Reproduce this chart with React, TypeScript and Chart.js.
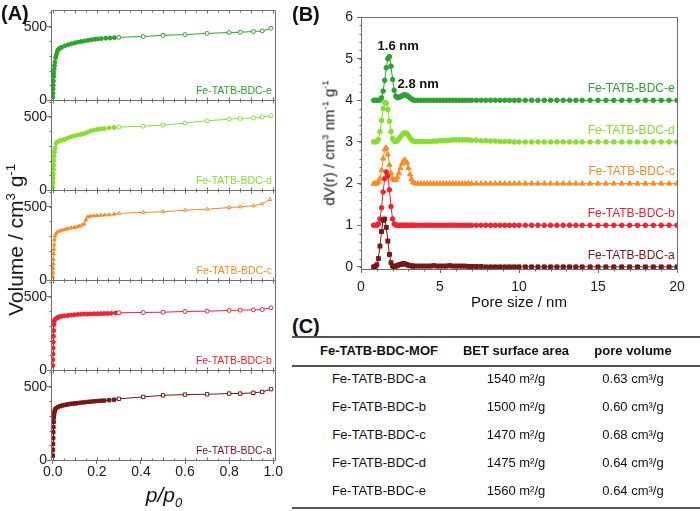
import React, { useEffect, useRef } from 'react';
import { Chart, registerables } from 'chart.js';

Chart.register(...registerables);

const FONT = '"Liberation Sans", Arial, Helvetica, sans-serif';
Chart.defaults.font.family = FONT;

// ---------- shared ----------
const SAMPLE_NAMES = ['Fe-TATB-BDC-a', 'Fe-TATB-BDC-b', 'Fe-TATB-BDC-c', 'Fe-TATB-BDC-d', 'Fe-TATB-BDC-e'];
const SAMPLE_COLORS = ['#7b1616', '#f5202e', '#ff8a1c', '#84e02a', '#2ca42c'];
const POINT_STYLES = ['rect', 'circle', 'triangle', 'circle', 'circle'];
const FRAME_COLOR = '#6f6f6f';
const TICK_COLOR = '#222';

// ---------- panel A: N2 isotherms (p/p0, cm3/g) ----------
const ISO_A_ADS_P = [0.0005, 0.001, 0.0015, 0.002, 0.0025, 0.003, 0.004, 0.005, 0.006, 0.008, 0.010, 0.015, 0.023, 0.034, 0.045, 0.057, 0.068, 0.079, 0.090, 0.102, 0.113, 0.128, 0.143, 0.158, 0.173, 0.188, 0.203, 0.218, 0.233, 0.255, 0.278];
const ISO_A_ADS_V = [30, 70, 110, 150, 190, 225, 260, 290, 310, 330, 343, 352, 362, 368, 373, 377, 380, 383, 385, 387, 389, 392, 394, 397, 399, 401, 403, 405, 406, 409, 412];
const ISO_A_DES_P = [0.30, 0.41, 0.50, 0.60, 0.70, 0.80, 0.85, 0.91, 0.95, 0.99];
const ISO_A_DES_V = [418, 431, 442, 447, 449, 454, 454, 459, 465, 484];

const ISO_B_ADS_P = [0.0005, 0.001, 0.0015, 0.002, 0.0025, 0.003, 0.004, 0.005, 0.007, 0.010, 0.015, 0.022, 0.030, 0.040, 0.053, 0.068, 0.083, 0.098, 0.113, 0.128, 0.143, 0.158, 0.173, 0.188, 0.203, 0.218, 0.233, 0.248, 0.265, 0.285];
const ISO_B_ADS_V = [30, 70, 110, 150, 190, 230, 270, 310, 335, 345, 352, 358, 364, 367, 370, 373, 375, 377, 380, 381, 382, 382, 383, 384, 384, 385, 386, 386, 388, 389];
const ISO_B_DES_P = [0.30, 0.41, 0.50, 0.60, 0.70, 0.80, 0.85, 0.91, 0.95, 0.99];
const ISO_B_DES_V = [391, 393, 395, 400, 402, 407, 409, 411, 413, 425];

const ISO_C_ADS_P = [0.0005, 0.001, 0.0015, 0.002, 0.003, 0.004, 0.005, 0.006, 0.0075, 0.010, 0.015, 0.023, 0.034, 0.045, 0.057, 0.068, 0.083, 0.098, 0.110, 0.120, 0.132, 0.143, 0.150, 0.158, 0.170, 0.185, 0.200, 0.218, 0.235, 0.255, 0.278];
const ISO_C_ADS_V = [20, 50, 80, 110, 140, 180, 210, 240, 275, 300, 318, 330, 336, 341, 346, 352, 356, 359, 363, 368, 375, 382, 410, 432, 436, 438, 440, 442, 444, 446, 450];
const ISO_C_DES_P = [0.30, 0.41, 0.50, 0.60, 0.70, 0.80, 0.85, 0.91, 0.95, 0.985];
const ISO_C_DES_V = [455, 462, 466, 477, 484, 495, 500, 507, 520, 550];

const ISO_D_ADS_P = [0.0005, 0.001, 0.0015, 0.002, 0.003, 0.004, 0.005, 0.006, 0.0075, 0.010, 0.015, 0.020, 0.030, 0.040, 0.053, 0.068, 0.083, 0.098, 0.113, 0.128, 0.143, 0.158, 0.173, 0.188, 0.203, 0.218, 0.233, 0.255, 0.278];
const ISO_D_ADS_V = [20, 50, 80, 110, 140, 170, 200, 230, 260, 285, 318, 328, 336, 341, 345, 355, 364, 370, 375, 380, 386, 395, 405, 410, 414, 417, 420, 424, 427];
const ISO_D_DES_P = [0.30, 0.41, 0.50, 0.60, 0.70, 0.80, 0.85, 0.91, 0.95, 0.99];
const ISO_D_DES_V = [430, 436, 443, 457, 473, 484, 489, 493, 500, 508];

const ISO_E_ADS_P = [0.0005, 0.001, 0.0015, 0.002, 0.003, 0.004, 0.005, 0.006, 0.008, 0.010, 0.013, 0.016, 0.020, 0.025, 0.030, 0.040, 0.055, 0.070, 0.085, 0.100, 0.115, 0.130, 0.145, 0.160, 0.175, 0.190, 0.205, 0.220, 0.240, 0.260, 0.280];
const ISO_E_ADS_V = [20, 45, 75, 100, 130, 160, 185, 210, 235, 260, 290, 310, 330, 345, 352, 360, 370, 378, 384, 390, 396, 400, 404, 408, 412, 415, 417, 420, 422, 424, 426];
const ISO_E_DES_P = [0.30, 0.41, 0.50, 0.60, 0.70, 0.80, 0.85, 0.91, 0.95, 0.99];
const ISO_E_DES_V = [428, 434, 442, 447, 455, 461, 463, 468, 472, 490];

const ISO_ADS_P = [ISO_A_ADS_P, ISO_B_ADS_P, ISO_C_ADS_P, ISO_D_ADS_P, ISO_E_ADS_P];
const ISO_ADS_V = [ISO_A_ADS_V, ISO_B_ADS_V, ISO_C_ADS_V, ISO_D_ADS_V, ISO_E_ADS_V];
const ISO_DES_P = [ISO_A_DES_P, ISO_B_DES_P, ISO_C_DES_P, ISO_D_DES_P, ISO_E_DES_P];
const ISO_DES_V = [ISO_A_DES_V, ISO_B_DES_V, ISO_C_DES_V, ISO_D_DES_V, ISO_E_DES_V];

const A_X_TICKS = [0, 0.2, 0.4, 0.6, 0.8, 1.0];
const A_Y_TICKS = [0, 500];

// ---------- panel B: pore size distributions ----------
const PORE_SIZE = [
  0.8, 0.9, 1.0, 1.1, 1.2, 1.3, 1.4, 1.5, 1.6, 1.7, 1.8, 1.9, 2.0, 2.1, 2.2, 2.3, 2.4, 2.5, 2.6, 2.7, 2.8, 2.9, 3.0, 3.1, 3.2, 3.3, 3.4,
  3.6, 3.8, 4.0, 4.2, 4.4, 4.6, 4.8, 5.0, 5.2, 5.4, 5.6, 5.8, 6.0, 6.2, 6.4, 6.6, 6.8, 7.0,
  7.3, 7.6, 7.9, 8.2, 8.5, 8.8, 9.1, 9.4, 9.7, 10.0,
  10.4, 10.8, 11.2, 11.6, 12.0, 12.4, 12.8, 13.2, 13.6, 14.0,
  14.5, 15.0, 15.5, 16.0, 16.5, 17.0, 17.5, 18.0, 18.5, 19.0, 19.5, 20.0,
];
const PSD_A = [
  0, 0.01, 0.05, 0.2, 0.5, 0.85, 1.12, 1.15, 0.95, 0.62, 0.3, 0.1, 0.02, 0.01, 0.02, 0.03, 0.05, 0.06, 0.07, 0.08, 0.07, 0.06, 0.04, 0.03, 0.02, 0.02, 0.02,
  0.02, 0.02, 0.02, 0.02, 0.02, 0.03, 0.02, 0.02, 0.02, 0.02, 0.03, 0.02, 0.02, 0.02, 0.02, 0.02, 0.01, 0.01,
  0.01, 0.01, 0, 0, 0, 0, 0, 0, 0, 0,
  0, 0, 0, 0, 0, 0, 0, 0, 0, 0,
  0, 0, 0, 0, 0, 0, 0, 0, 0, 0, 0, 0,
];
const PSD_B = [
  0, 0, 0, 0.03, 0.15, 0.42, 0.8, 1.12, 1.28, 1.18, 0.85, 0.45, 0.15, 0.03, 0.01, 0, 0, 0, 0, 0, 0, 0, 0, 0, 0, 0, 0,
  0, 0, 0, 0, 0, 0, 0, 0, 0, 0, 0, 0, 0, 0, 0, 0, 0, 0,
  0, 0, 0, 0, 0, 0, 0, 0, 0, 0,
  0, 0, 0, 0, 0, 0, 0, 0, 0, 0,
  0, 0, 0, 0, 0, 0, 0, 0, 0, 0, 0, 0,
];
const PSD_C = [
  0, 0, 0, 0.03, 0.12, 0.32, 0.6, 0.82, 0.86, 0.7, 0.45, 0.25, 0.12, 0.08, 0.09, 0.15, 0.25, 0.37, 0.48, 0.55, 0.56, 0.5, 0.37, 0.22, 0.1, 0.03, 0.01,
  0, 0, 0, 0, 0, 0, 0, 0, 0, 0, 0, 0, 0, 0, 0, 0, 0, 0,
  0, 0, 0, 0, 0, 0, 0, 0, 0, 0,
  0, 0, 0, 0, 0, 0, 0, 0, 0, 0,
  0, 0, 0, 0, 0, 0, 0, 0, 0, 0, 0, 0,
];
const PSD_D = [
  0, 0, 0.01, 0.06, 0.25, 0.52, 0.8, 0.95, 0.93, 0.78, 0.5, 0.25, 0.08, 0.02, 0.01, 0.03, 0.07, 0.12, 0.17, 0.21, 0.22, 0.21, 0.16, 0.1, 0.05, 0.02, 0.01,
  0.01, 0.01, 0.01, 0.01, 0.01, 0.02, 0.02, 0.03, 0.03, 0.04, 0.04, 0.05, 0.05, 0.05, 0.05, 0.05, 0.05, 0.04,
  0.04, 0.03, 0.03, 0.02, 0.02, 0.01, 0.01, 0.01, 0, 0,
  0, 0, 0, 0, 0, 0, 0, 0, 0, 0,
  0, 0, 0, 0, 0, 0, 0, 0, 0, 0, 0, 0,
];
const PSD_E = [
  0, 0, 0, 0, 0.01, 0.06, 0.22, 0.48, 0.78, 1.0, 1.05, 0.82, 0.5, 0.24, 0.1, 0.06, 0.07, 0.09, 0.11, 0.13, 0.13, 0.12, 0.09, 0.06, 0.03, 0.01, 0,
  0, 0, 0, 0, 0, 0, 0, 0, 0, 0, 0, 0, 0, 0, 0, 0, 0, 0,
  0, 0, 0, 0, 0, 0, 0, 0, 0, 0,
  0, 0, 0, 0, 0, 0, 0, 0, 0, 0,
  0, 0, 0, 0, 0, 0, 0, 0, 0, 0, 0, 0,
];
const PSD_SERIES = [PSD_A, PSD_B, PSD_C, PSD_D, PSD_E];
const PSD_OFFSETS = [0, 1, 2, 3, 4];
const B_X_TICKS = [0, 5, 10, 15, 20];
const B_Y_TICKS = [0, 1, 2, 3, 4, 5, 6];
const PEAK_NOTES = ['1.6 nm', '2.8 nm'];
const PEAK_NOTE_AT = [[2.35, 5.29], [3.62, 4.37]];

// ---------- panel C: table ----------
const TABLE_HEAD = ['Fe-TATB-BDC-MOF', 'BET surface area', 'pore volume'];
const BET_AREA = ['1540 m²/g', '1500 m²/g', '1470 m²/g', '1475 m²/g', '1560 m²/g'];
const PORE_VOLUME = ['0.63 cm³/g', '0.60 cm³/g', '0.68 cm³/g', '0.64 cm³/g', '0.64 cm³/g'];

// ---------- plugins ----------
const isoFramePlugin = {
  id: 'isoFrame',
  afterDatasetsDraw(chart: any) {
    const { ctx, chartArea, scales } = chart;
    const xs = scales.x;
    ctx.save();
    ctx.strokeStyle = FRAME_COLOR;
    ctx.lineWidth = 1;
    const L = Math.round(chartArea.left) + 0.5;
    const R = Math.round(chartArea.right) + 0.5;
    SAMPLE_NAMES.forEach((name, i) => {
      const ys = scales['y' + i];
      const T = Math.round(ys.top) + 0.5;
      const B = Math.round(ys.bottom) + 0.5;
      ctx.beginPath();
      ctx.rect(L, T, R - L, B - T);
      for (let k = 0; k <= 20; k++) {
        const px = Math.round(xs.getPixelForValue(k / 20)) + 0.5;
        const len = k % 2 === 0 ? 3 : 2;
        ctx.moveTo(px, B); ctx.lineTo(px, B - len);
        ctx.moveTo(px, T); ctx.lineTo(px, T + len);
      }
      for (let v = 100; v <= 600; v += 100) {
        const py = Math.round(ys.getPixelForValue(v)) + 0.5;
        ctx.moveTo(L, py); ctx.lineTo(L - 2, py);
      }
      ctx.stroke();
      ctx.fillStyle = SAMPLE_COLORS[i];
      ctx.font = `10.5px ${FONT}`;
      ctx.textAlign = 'right';
      ctx.textBaseline = 'middle';
      ctx.fillText(name, xs.getPixelForValue(0.994), ys.getPixelForValue(60));
    });
    ctx.restore();
  },
};

const psdFramePlugin = {
  id: 'psdFrame',
  afterDatasetsDraw(chart: any) {
    const { ctx, chartArea, scales } = chart;
    const xs = scales.x;
    const ys = scales.y;
    ctx.save();
    ctx.strokeStyle = FRAME_COLOR;
    ctx.lineWidth = 1;
    const L = Math.round(chartArea.left) + 0.5;
    const R = Math.round(chartArea.right) + 0.5;
    const T = Math.round(chartArea.top) + 0.5;
    const B = Math.round(chartArea.bottom) + 0.5;
    ctx.beginPath();
    ctx.rect(L, T, R - L, B - T);
    for (let k = 0; k <= 30; k++) {
      const py = Math.round(ys.getPixelForValue(k / 5)) + 0.5;
      ctx.moveTo(L, py); ctx.lineTo(L - 2, py);
    }
    for (let k = 0; k <= 20; k++) {
      const px = Math.round(xs.getPixelForValue(k)) + 0.5;
      ctx.moveTo(px, B); ctx.lineTo(px, B + 2);
    }
    ctx.stroke();
    ctx.textAlign = 'right';
    ctx.textBaseline = 'middle';
    ctx.font = `12px ${FONT}`;
    SAMPLE_NAMES.forEach((name, i) => {
      ctx.fillStyle = SAMPLE_COLORS[i];
      ctx.fillText(name, xs.getPixelForValue(19.85), ys.getPixelForValue(PSD_OFFSETS[i] + 0.28));
    });
    ctx.fillStyle = '#111';
    ctx.textAlign = 'center';
    ctx.font = `bold 13px ${FONT}`;
    PEAK_NOTES.forEach((t, i) => {
      ctx.fillText(t, xs.getPixelForValue(PEAK_NOTE_AT[i][0]), ys.getPixelForValue(PEAK_NOTE_AT[i][1]));
    });
    ctx.restore();
  },
};

// ---------- text helper ----------
function Txt(props: { x: number; y: number; align?: 'left' | 'center' | 'right'; rotate?: boolean; style?: any; children: any }) {
  const { x, y, align = 'center', rotate, style, children } = props;
  let transform = align === 'left' ? 'translate(0,-50%)' : align === 'right' ? 'translate(-100%,-50%)' : 'translate(-50%,-50%)';
  if (rotate) transform = 'translate(-50%,-50%) rotate(-90deg)';
  return (
    <div style={{ position: 'absolute', left: x, top: y, transform, whiteSpace: 'nowrap', lineHeight: 1.15, ...style }}>
      {children}
    </div>
  );
}

const supStyle = { fontSize: '0.62em', verticalAlign: 'super', lineHeight: 0 } as any;

export default function App() {
  const aRef = useRef<HTMLCanvasElement>(null);
  const bRef = useRef<HTMLCanvasElement>(null);

  useEffect(() => {
    const yScales: any = {};
    SAMPLE_NAMES.forEach((_, i) => {
      yScales['y' + i] = {
        type: 'linear',
        position: 'left',
        stack: 'iso',
        stackWeight: 1,
        min: 0,
        max: 615,
        afterBuildTicks: (s: any) => { s.ticks = A_Y_TICKS.map((v) => ({ value: v })); },
        afterFit: (s: any) => { s.width = 51; },
        ticks: { font: { size: 14 }, color: TICK_COLOR, padding: 0 },
        grid: { drawOnChartArea: false, tickLength: 4, color: FRAME_COLOR },
        border: { display: false },
      };
    });

    const chartA = new Chart(aRef.current as HTMLCanvasElement, {
      type: 'line',
      data: {
        datasets: SAMPLE_NAMES.map((name, i) => {
          const color = SAMPLE_COLORS[i];
          const pts = ISO_ADS_P[i].map((p, k) => ({ x: p, y: ISO_ADS_V[i][k] }))
            .concat(ISO_DES_P[i].map((p, k) => ({ x: p, y: ISO_DES_V[i][k] })));
          const fills = ISO_ADS_P[i].map(() => color).concat(ISO_DES_P[i].map(() => '#ffffff'));
          return {
            label: name,
            data: pts,
            yAxisID: 'y' + i,
            xAxisID: 'x',
            borderColor: color,
            backgroundColor: color,
            borderWidth: 1,
            pointStyle: POINT_STYLES[i] as any,
            pointRadius: POINT_STYLES[i] === 'rect' ? 2.4 : 2,
            pointBackgroundColor: fills,
            pointBorderColor: color,
            pointBorderWidth: 1,
            fill: false,
            tension: 0,
          };
        }),
      },
      options: {
        animation: false,
        responsive: false,
        maintainAspectRatio: false,
        devicePixelRatio: 1,
        layout: { padding: { top: 10, right: 15, left: 0, bottom: 0 } },
        plugins: { legend: { display: false }, tooltip: { enabled: false } },
        scales: {
          x: {
            type: 'linear',
            position: 'bottom',
            min: -0.008,
            max: 1.008,
            afterBuildTicks: (s: any) => { s.ticks = A_X_TICKS.map((v) => ({ value: v })); },
            afterFit: (s: any) => { s.height = 51; },
            ticks: { callback: (v: any) => Number(v).toFixed(1), font: { size: 14 }, color: TICK_COLOR, padding: 0, maxRotation: 0 },
            grid: { drawOnChartArea: false, tickLength: 4, color: FRAME_COLOR },
            border: { display: false },
          },
          ...yScales,
        },
      } as any,
      plugins: [isoFramePlugin],
    });

    const chartB = new Chart(bRef.current as HTMLCanvasElement, {
      type: 'line',
      data: {
        datasets: SAMPLE_NAMES.map((name, i) => {
          const color = SAMPLE_COLORS[i];
          return {
            label: name,
            data: PORE_SIZE.map((x, k) => ({ x, y: PSD_SERIES[i][k] + PSD_OFFSETS[i] })),
            borderColor: color,
            backgroundColor: color,
            borderWidth: 1,
            pointStyle: POINT_STYLES[i] as any,
            pointRadius: POINT_STYLES[i] === 'triangle' ? 3 : POINT_STYLES[i] === 'rect' ? 2.8 : 2.3,
            pointBackgroundColor: color,
            pointBorderColor: color,
            pointBorderWidth: 1,
            fill: false,
            tension: 0,
          };
        }),
      },
      options: {
        animation: false,
        responsive: false,
        maintainAspectRatio: false,
        devicePixelRatio: 1,
        layout: { padding: { top: 17, right: 23, left: 0, bottom: 0 } },
        plugins: { legend: { display: false }, tooltip: { enabled: false } },
        scales: {
          x: {
            type: 'linear',
            min: 0,
            max: 20,
            afterBuildTicks: (s: any) => { s.ticks = B_X_TICKS.map((v) => ({ value: v })); },
            afterFit: (s: any) => { s.height = 43; },
            ticks: { font: { size: 14 }, color: TICK_COLOR, padding: 6, maxRotation: 0 },
            grid: { drawOnChartArea: false, tickLength: 4, color: FRAME_COLOR },
            border: { display: false },
          },
          y: {
            type: 'linear',
            min: -0.05,
            max: 6,
            afterBuildTicks: (s: any) => { s.ticks = B_Y_TICKS.map((v) => ({ value: v })); },
            afterFit: (s: any) => { s.width = 51; },
            ticks: { font: { size: 14 }, color: TICK_COLOR, padding: 4 },
            grid: { drawOnChartArea: false, tickLength: 4, color: FRAME_COLOR },
            border: { display: false },
          },
        },
      } as any,
      plugins: [psdFramePlugin],
    });

    return () => {
      chartA.destroy();
      chartB.destroy();
    };
  }, []);

  const colC = [379, 516, 633];
  const rowY = [379, 407, 435, 463, 491];
  const line = (top: number) => (
    <div style={{ position: 'absolute', left: 292, top, width: 408, height: 2, background: '#555' }} />
  );

  return (
    <div style={{ position: 'fixed', left: 0, top: 0, width: 700, height: 511, background: '#fff', overflow: 'hidden', fontFamily: FONT, color: '#111' }}>
      <canvas ref={aRef} width={290} height={511} style={{ position: 'absolute', left: 0, top: 0, width: 290, height: 511 }} />
      <canvas ref={bRef} width={390} height={312} style={{ position: 'absolute', left: 310, top: 0, width: 390, height: 312 }} />

      <Txt x={1} y={13} align="left" style={{ fontSize: 20, fontWeight: 'bold' }}>(A)</Txt>
      <Txt x={292} y={14} align="left" style={{ fontSize: 20, fontWeight: 'bold' }}>(B)</Txt>
      <Txt x={292} y={326} align="left" style={{ fontSize: 20, fontWeight: 'bold' }}>(C)</Txt>

      <Txt x={16} y={240} rotate style={{ fontSize: 21 }}>
        Volume / cm<span style={supStyle}>3</span> g<span style={supStyle}>-1</span>
      </Txt>
      <Txt x={164} y={495} style={{ fontSize: 21, fontStyle: 'italic' }}>
        p/p<span style={{ fontSize: '0.62em', verticalAlign: 'sub', lineHeight: 0 }}>0</span>
      </Txt>

      <Txt x={329} y={143} rotate style={{ fontSize: 15 }}>
        dV(r) / cm<span style={supStyle}>3</span> nm<span style={supStyle}>-1</span> g<span style={supStyle}>-1</span>
      </Txt>
      <Txt x={519} y={302} style={{ fontSize: 15 }}>Pore size / nm</Txt>

      {line(336)}
      {line(365)}
      {line(507)}
      {TABLE_HEAD.map((h, j) => (
        <Txt key={'h' + j} x={colC[j]} y={351} style={{ fontSize: 13, fontWeight: 'bold' }}>{h}</Txt>
      ))}
      {SAMPLE_NAMES.map((name, r) => (
        <React.Fragment key={'r' + r}>
          <Txt x={colC[0]} y={rowY[r]} style={{ fontSize: 13 }}>{name}</Txt>
          <Txt x={colC[1]} y={rowY[r]} style={{ fontSize: 13 }}>{BET_AREA[r]}</Txt>
          <Txt x={colC[2]} y={rowY[r]} style={{ fontSize: 13 }}>{PORE_VOLUME[r]}</Txt>
        </React.Fragment>
      ))}
    </div>
  );
}
